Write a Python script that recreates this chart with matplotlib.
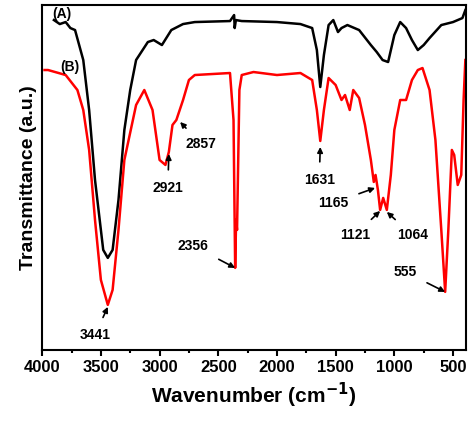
import numpy as np
import matplotlib.pyplot as plt

plt.rcParams['font.family'] = ['Liberation Sans', 'DejaVu Sans']
plt.rcParams['font.weight'] = 'bold'

# wavenumber (cm-1) and transmittance (a.u.)
wa = [3900, 3850, 3800, 3760, 3720, 3650, 3600, 3550, 3480, 3441, 3400, 3350, 3300, 3250, 3200,
      3100, 3050, 2980, 2900, 2800, 2700, 2400, 2365, 2360, 2350, 2300, 2000, 1800, 1700, 1660,
      1631, 1600, 1560, 1520, 1480, 1450, 1400, 1300, 1200, 1150, 1100, 1053, 1000, 950, 900,
      850, 800, 750, 700, 600, 500, 420, 395]
ta = [330, 326, 328, 322, 320, 290, 240, 170, 100, 92, 100, 150, 220, 260, 290,
      308, 310, 305, 320, 326, 328, 329, 335, 322, 330, 329, 328, 326, 322, 300,
      263, 295, 325, 330, 318, 322, 325, 320, 305, 298, 290, 288, 315, 328, 322,
      310, 300, 305, 312, 325, 328, 332, 340]

wb = [3980, 3950, 3800, 3700, 3650, 3600, 3550, 3500, 3441, 3400, 3350, 3300, 3200, 3130, 3060,
      3000, 2950, 2921, 2890, 2857, 2800, 2750, 2700, 2400, 2370, 2356, 2348, 2340, 2320, 2300,
      2200, 2000, 1800, 1700, 1660, 1631, 1600, 1560, 1500, 1450, 1420, 1380, 1350, 1300, 1250,
      1200, 1175, 1160, 1140, 1121, 1095, 1064, 1030, 1000, 950, 900, 850, 800, 760, 700,
      650, 600, 567, 540, 510, 490, 460, 430, 410, 395]
tb = [280, 280, 275, 260, 240, 200, 130, 70, 45, 60, 120, 190, 245, 260, 240,
      190, 185, 198, 225, 230, 250, 270, 275, 277, 230, 82, 130, 120, 260, 275,
      278, 275, 277, 270, 240, 209, 240, 272, 265, 250, 255, 240, 260, 252, 225,
      190, 168, 175, 160, 140, 152, 140, 175, 220, 250, 250, 270, 280, 282, 260,
      210, 120, 58, 120, 200, 195, 165, 175, 250, 290]

labels = ['3441', '2921', '2857', '2356', '1631', '1165', '1121', '1064', '555']
tip_w = [3441, 2921, 2825, 2356, 1631, 1164, 1121, 1064, 567]
tip_t = [43, 196, 228, 82, 203, 162, 139, 138, 58]
txt_w = [3549, 2930, 2646, 2714, 1640, 1521, 1334, 848, 908]
txt_t = [15, 162, 206, 104, 170, 147, 115, 115, 78]

fig = plt.figure(figsize=(4.74, 4.22), dpi=100)
ax = fig.add_axes([0.089, 0.171, 0.894, 0.817])
ax.plot(wa, ta, color='black', lw=1.8)
ax.plot(wb, tb, color='red', lw=1.8)

for lab, x1, y1, x2, y2 in zip(labels, tip_w, tip_t, txt_w, txt_t):
    ax.annotate(lab, xy=(x1, y1), xytext=(x2, y2), ha='center', va='center',
                fontsize=10, fontweight='bold',
                arrowprops=dict(arrowstyle='-|>', color='black', lw=1.2,
                                mutation_scale=8, shrinkB=0, shrinkA=6))

ax.text(3830, 336, '(A)', fontsize=10, fontweight='bold', ha='center', va='center')
ax.text(3760, 283, '(B)', fontsize=10, fontweight='bold', ha='center', va='center')

ax.set_xlim(4000, 390)
ax.set_ylim(0, 345)
ax.set_xticks(np.arange(4000, 499, -500))
ax.set_xticks(np.arange(3750, 400, -500), minor=True)
ax.set_yticks([])
ax.tick_params(axis='x', labelsize=12, width=1.5, length=4)
ax.tick_params(axis='x', which='minor', width=1.5, length=2.5)
for s in ax.spines.values():
    s.set_linewidth(1.5)
ax.set_xlabel('Wavenumber (cm$^{\\mathbf{-1}}$)', fontsize=15, fontweight='bold')
ax.set_ylabel('Transmittance (a.u.)', fontsize=14, fontweight='bold', labelpad=4)

fig.savefig('out.png', dpi=100)
